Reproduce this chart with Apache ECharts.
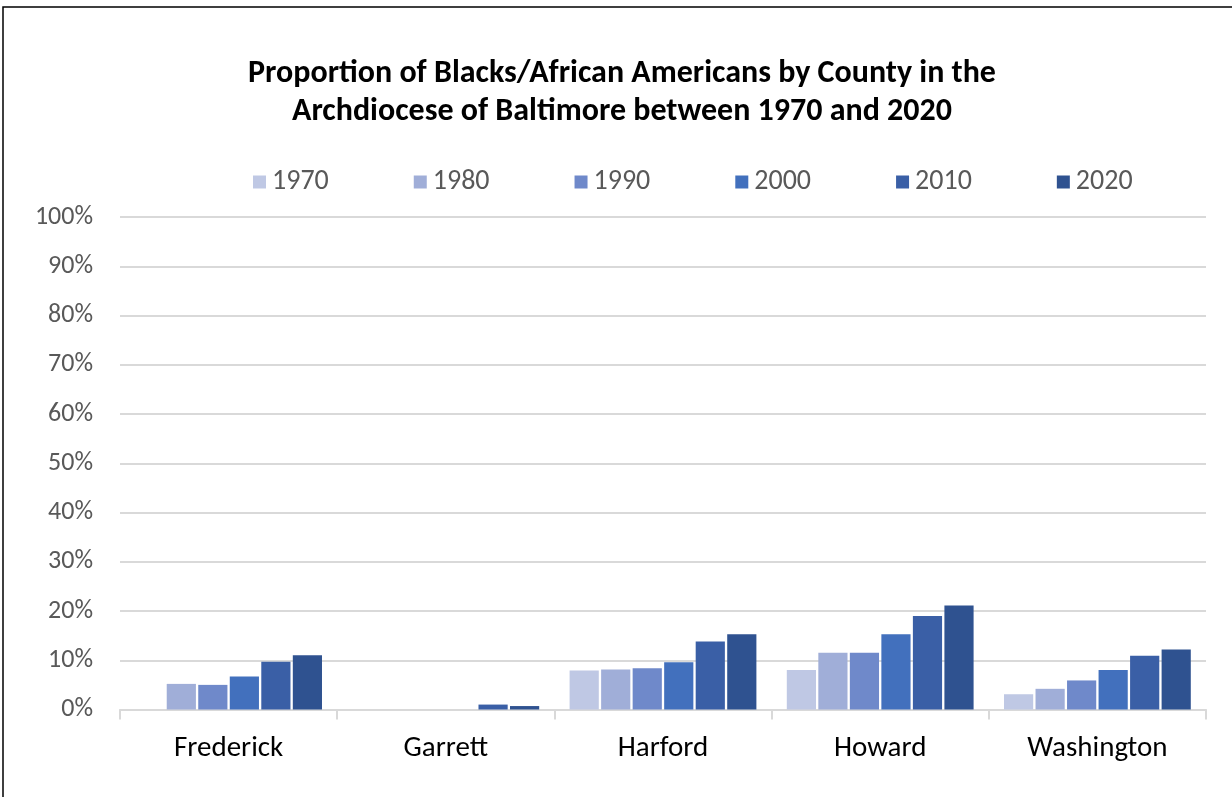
<!DOCTYPE html>
<html><head><meta charset="utf-8">
<script src="https://cdn.jsdelivr.net/npm/echarts@6/dist/echarts.min.js"></script>
<style>html,body{margin:0;padding:0;background:#fff}#c{width:1232px;height:797px}</style>
</head><body><div id="c"></div>
<script>
const counties = ['Frederick', 'Garrett', 'Harford', 'Howard', 'Washington'];
const years = ['1970', '1980', '1990', '2000', '2010', '2020'];
const v1970 = [0, 0, 0.079, 0.080, 0.031];
const v1980 = [0.052, 0, 0.081, 0.115, 0.042];
const v1990 = [0.050, 0, 0.084, 0.115, 0.059];
const v2000 = [0.067, 0, 0.096, 0.153, 0.080];
const v2010 = [0.097, 0.010, 0.138, 0.190, 0.109];
const v2020 = [0.110, 0.007, 0.153, 0.211, 0.122];
const yTicks = [0, 0.1, 0.2, 0.3, 0.4, 0.5, 0.6, 0.7, 0.8, 0.9, 1.0];
const colors = ['#BFC8E4', '#A0AED8', '#6F89CA', '#4270BD', '#3A5FA6', '#2F5290'];
const seriesValues = [v1970, v1980, v1990, v2000, v2010, v2020];
const FONT = "Carlito, 'Liberation Sans Narrow', 'Liberation Sans', sans-serif";

const chart = echarts.init(document.getElementById('c'), null, {renderer: 'canvas'});
chart.setOption({
  backgroundColor: '#fff',
  animation: false,
  title: {
    text: 'Proportion of Blacks/African Americans by County in the\nArchdiocese of Baltimore between 1970 and 2020',
    left: 622, top: 55, padding: 0, textAlign: 'center',
    textStyle: {fontFamily: FONT, fontSize: 32, fontWeight: 'bold', color: '#000', lineHeight: 38}
  },
  legend: {
    data: years, top: 168, left: 253, padding: 0, itemGap: 85,
    itemWidth: 13, itemHeight: 13, icon: 'rect',
    textStyle: {fontFamily: FONT, fontSize: 28, color: '#595959', padding: [0, 0, 0, 1]}
  },
  grid: {left: 120, right: 26, top: 217, bottom: 87.5, containLabel: false},
  xAxis: {
    type: 'category', data: counties,
    axisLine: {lineStyle: {color: '#D9D9D9', width: 2}},
    axisTick: {show: true, length: 10, lineStyle: {color: '#D9D9D9', width: 2}},
    axisLabel: {fontFamily: FONT, fontSize: 29, color: '#000', margin: 25}
  },
  yAxis: {
    type: 'value', min: 0, max: 1, interval: 0.1,
    axisLine: {show: false}, axisTick: {show: false},
    splitLine: {lineStyle: {color: '#D9D9D9', width: 2}},
    axisLabel: {fontFamily: FONT, fontSize: 26, color: '#595959', margin: 27,
      formatter: v => Math.round(v * 100) + '%'}
  },
  series: years.map((y, i) => ({
    name: y, type: 'bar', data: seriesValues[i],
    itemStyle: {color: colors[i]},
    barGap: '8%', barCategoryGap: '14%'
  })),
  graphic: [{
    type: 'rect', shape: {x: 3, y: 7, width: 1240, height: 800},
    style: {fill: 'none', stroke: '#000', lineWidth: 1.5}, silent: true
  }]
});
</script></body></html>
